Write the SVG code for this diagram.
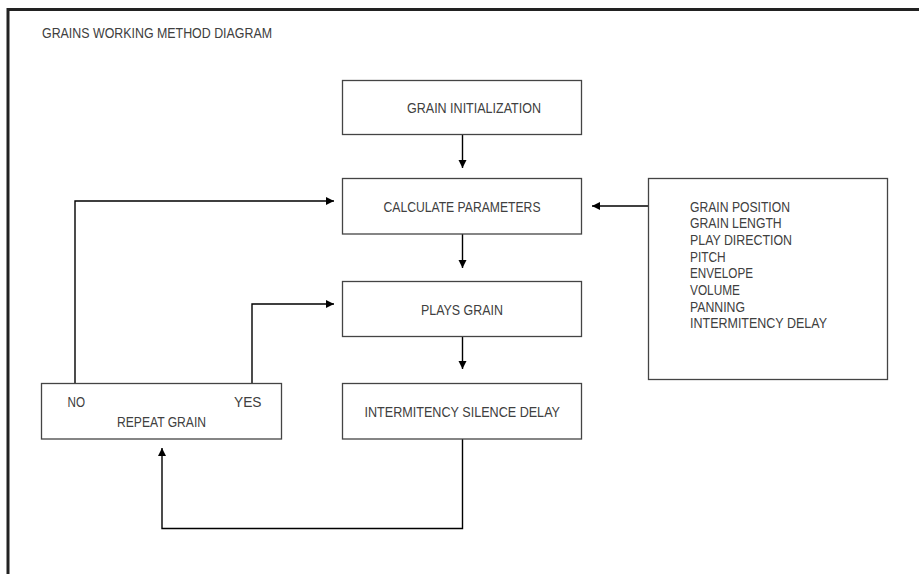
<svg xmlns="http://www.w3.org/2000/svg" width="919" height="574" viewBox="0 0 919 574">
<style>
.box{fill:#fff;stroke:#444;stroke-width:1.3}
.t{font-family:"Liberation Sans",Arial,sans-serif;font-size:14.5px;fill:#404040}
.c{fill:none;stroke:#000;stroke-width:1.4}
</style>
<defs>
<marker id="ah" markerUnits="userSpaceOnUse" markerWidth="10" markerHeight="10" refX="9" refY="5" orient="auto">
<path d="M1,1 L9,5 L1,9 Z" fill="#000"/>
</marker>
</defs>
<rect width="919" height="574" fill="#fff"/>
<path d="M8,574 V9.5 H919" fill="none" stroke="#222" stroke-width="3"/>
<text class="t" x="42" y="37.7" textLength="230" lengthAdjust="spacingAndGlyphs">GRAINS WORKING METHOD DIAGRAM</text>
<g id="connectors">
<path class="c" d="M462.5,135 V168" marker-end="url(#ah)"/>
<path class="c" d="M462.5,234 V268" marker-end="url(#ah)"/>
<path class="c" d="M462.5,337 V369" marker-end="url(#ah)"/>
<path class="c" d="M648,206 H592" marker-end="url(#ah)"/>
<path class="c" d="M75,383 V201 H334" marker-end="url(#ah)"/>
<path class="c" d="M252,383 V304 H334" marker-end="url(#ah)"/>
<path class="c" d="M462.5,439 V528.5 H162 V448" marker-end="url(#ah)"/>
</g>
<g id="init">
<rect class="box" x="342.5" y="80.5" width="239" height="54"/>
<text class="t" x="407" y="113.3" textLength="134" lengthAdjust="spacingAndGlyphs">GRAIN INITIALIZATION</text>
</g>
<g id="calc">
<rect class="box" x="342.5" y="178.5" width="239" height="55.5"/>
<text class="t" x="383.5" y="211.7" textLength="157" lengthAdjust="spacingAndGlyphs">CALCULATE PARAMETERS</text>
</g>
<g id="plays">
<rect class="box" x="342.5" y="281.5" width="239" height="55"/>
<text class="t" x="421" y="315" textLength="82" lengthAdjust="spacingAndGlyphs">PLAYS GRAIN</text>
</g>
<g id="silence">
<rect class="box" x="342.5" y="383.5" width="239" height="55.5"/>
<text class="t" x="364.5" y="417.3" textLength="195.5" lengthAdjust="spacingAndGlyphs">INTERMITENCY SILENCE DELAY</text>
</g>
<g id="repeat">
<rect class="box" x="41.5" y="383.5" width="240" height="55.5"/>
<text class="t" x="67.5" y="406.7" textLength="17.5" lengthAdjust="spacingAndGlyphs">NO</text>
<text class="t" x="234" y="406.7" textLength="27.5" lengthAdjust="spacingAndGlyphs">YES</text>
<text class="t" x="117" y="426.7" textLength="89" lengthAdjust="spacingAndGlyphs">REPEAT GRAIN</text>
</g>
<g id="params">
<rect class="box" x="648.5" y="178.5" width="239" height="201"/>
<text class="t" x="690" y="211.7" textLength="100" lengthAdjust="spacingAndGlyphs">GRAIN POSITION</text>
<text class="t" x="690" y="228.3" textLength="91.7" lengthAdjust="spacingAndGlyphs">GRAIN LENGTH</text>
<text class="t" x="690" y="245" textLength="102" lengthAdjust="spacingAndGlyphs">PLAY DIRECTION</text>
<text class="t" x="690" y="261.7" textLength="35.7" lengthAdjust="spacingAndGlyphs">PITCH</text>
<text class="t" x="690" y="278.3" textLength="63" lengthAdjust="spacingAndGlyphs">ENVELOPE</text>
<text class="t" x="690" y="295" textLength="50" lengthAdjust="spacingAndGlyphs">VOLUME</text>
<text class="t" x="690" y="311.7" textLength="55" lengthAdjust="spacingAndGlyphs">PANNING</text>
<text class="t" x="690" y="328.3" textLength="137" lengthAdjust="spacingAndGlyphs">INTERMITENCY DELAY</text>
</g>
</svg>
